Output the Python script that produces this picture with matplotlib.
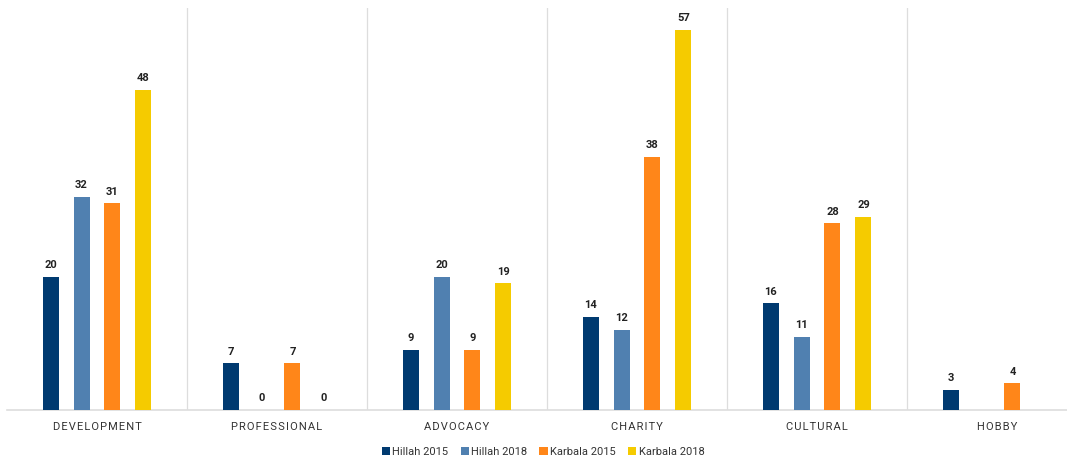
import numpy as np
import matplotlib.pyplot as plt

plt.rcParams['font.family'] = ['Roboto', 'DejaVu Sans']

categories = ["DEVELOPMENT", "PROFESSIONAL", "ADVOCACY", "CHARITY", "CULTURAL", "HOBBY"]
series = ["Hillah 2015", "Hillah 2018", "Karbala 2015", "Karbala 2018"]
hillah_2015 = [20, 7, 9, 14, 16, 3]
hillah_2018 = [32, 0, 20, 12, 11, np.nan]
karbala_2015 = [31, 7, 9, 38, 28, 4]
karbala_2018 = [48, 0, 19, 57, 29, np.nan]
colors = ["#003A70", "#5080B0", "#FF8619", "#F5CB00"]

fig = plt.figure(figsize=(10.67, 4.63), dpi=100)
ax = fig.add_axes([7 / 1067, 53 / 463, 1080 / 1067, 402 / 463])

x = np.arange(len(categories))
step = 0.172
width = 0.089
for i, (vals, c, name) in enumerate(zip([hillah_2015, hillah_2018, karbala_2015, karbala_2018], colors, series)):
    pos = x + (i - 1.5) * step
    ax.bar(pos, vals, width=width, color=c, label=name, zorder=3)
    for p, v in zip(pos, vals):
        if not np.isnan(v):
            ax.text(p, v + 1.0, str(int(v)), ha='center', va='bottom',
                    fontsize=8, fontweight='bold', color='#222222')

ax.set_xlim(-0.5, len(categories) - 0.5)
ax.set_ylim(0, 60.3)
for b in np.arange(0.5, len(categories) - 0.5, 1):
    ax.axvline(b, color='#dddddd', lw=0.9, zorder=1)

for s in ['top', 'right', 'left']:
    ax.spines[s].set_visible(False)
ax.spines['bottom'].set_color('#dddddd')
ax.spines['bottom'].set_linewidth(1.2)
ax.set_yticks([])
ax.set_xticks(x)
ax.set_xticklabels(['\u200a'.join(c) for c in categories], fontsize=8, color='#333333')
ax.tick_params(axis='x', length=0, pad=9)

fig.legend(loc='center', bbox_to_anchor=(543 / 1067, 1 - 452 / 463), ncol=4, frameon=False,
           fontsize=8, handlelength=0.75, handleheight=0.75, handletextpad=0.2, columnspacing=1.1,
           labelcolor='#333333')

fig.savefig("out.png", dpi=100)
